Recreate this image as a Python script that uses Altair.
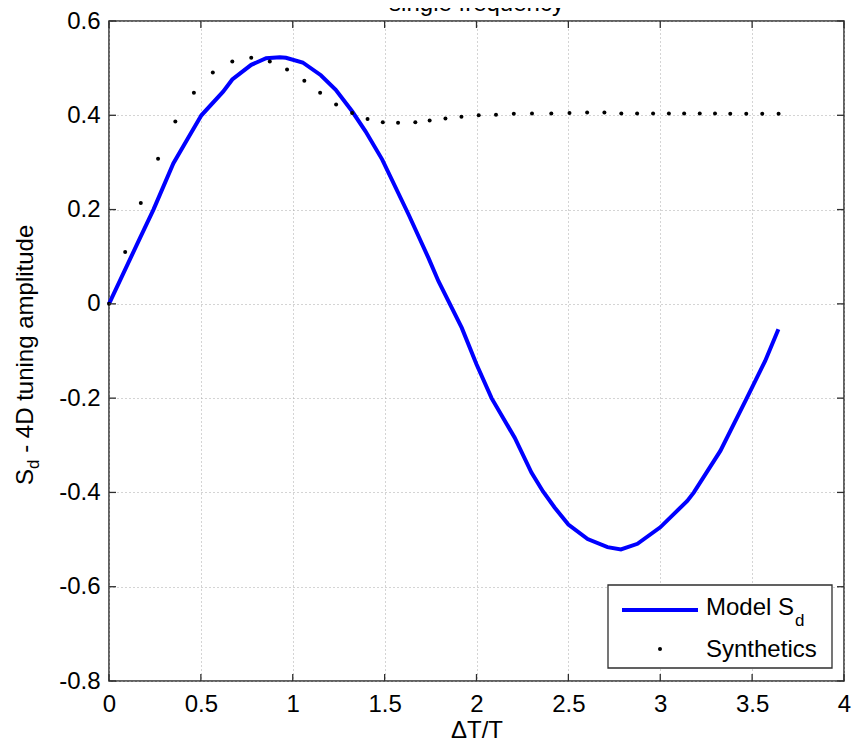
import altair as alt
import pandas as pd

# ---- data ----
model_x = [0.0, 0.169, 0.242, 0.350, 0.440, 0.503, 0.621, 0.671, 0.774, 0.855, 0.930,
           0.963, 1.054, 1.153, 1.234, 1.324, 1.396, 1.487, 1.631, 1.739, 1.793, 1.920,
           2.000, 2.082, 2.208, 2.299, 2.362, 2.425, 2.500, 2.605, 2.713, 2.786, 2.876,
           3.000, 3.147, 3.183, 3.327, 3.471, 3.571, 3.643]
model_y = [0.0, 0.140, 0.200, 0.298, 0.358, 0.400, 0.450, 0.476, 0.507, 0.521, 0.523,
           0.522, 0.512, 0.485, 0.454, 0.408, 0.366, 0.306, 0.189, 0.097, 0.048, -0.051,
           -0.128, -0.200, -0.284, -0.358, -0.398, -0.432, -0.468, -0.499, -0.516, -0.521, -0.509,
           -0.474, -0.418, -0.400, -0.312, -0.200, -0.121, -0.054]

syn_x = [0.0, 0.088, 0.173, 0.267, 0.361, 0.462, 0.565, 0.671, 0.774, 0.875, 0.969,
         1.063, 1.149, 1.236, 1.323, 1.407, 1.490, 1.573, 1.667, 1.745, 1.831, 1.918,
         2.012, 2.106, 2.203, 2.302, 2.407, 2.506, 2.602, 2.696, 2.788, 2.874, 2.961,
         3.047, 3.130, 3.215, 3.298, 3.381, 3.468, 3.555, 3.644]
syn_y = [0.0, 0.110, 0.214, 0.308, 0.387, 0.448, 0.491, 0.514, 0.522, 0.514, 0.497,
         0.473, 0.448, 0.423, 0.405, 0.392, 0.385, 0.384, 0.385, 0.389, 0.393, 0.397,
         0.400, 0.401, 0.403, 0.404, 0.404, 0.405, 0.406, 0.406, 0.404, 0.404, 0.404,
         0.404, 0.404, 0.404, 0.404, 0.403, 0.403, 0.403, 0.403]

x_ticks = [0, 0.5, 1, 1.5, 2, 2.5, 3, 3.5, 4]
y_ticks = [-0.8, -0.6, -0.4, -0.2, 0, 0.2, 0.4, 0.6]

title_text = "single frequency"
x_title = "ΔT/T"
y_title_main = "S"
y_title_sub = "d"
y_title_rest = "- 4D tuning amplitude"
legend_model = "Model S"
legend_model_sub = "d"
legend_syn = "Synthetics"

# ---- style ----
W, H = 735, 660
PAD_L, PAD_T, PAD_R, PAD_B = 101, 13, 8, 60
FONT = "Liberation Sans"
FS = 24
SUB = 17
BOX = "#2e2e2e"
BLUE = "#0000ff"

xs = alt.Scale(domain=[0, 4], nice=False, zero=False)
ys = alt.Scale(domain=[-0.8, 0.6], nice=False, zero=False)

model = pd.DataFrame({"x": model_x, "y": model_y})
syn = pd.DataFrame({"x": syn_x, "y": syn_y})
xt = pd.DataFrame({"x": x_ticks})
yt = pd.DataFrame({"y": y_ticks})
one = pd.DataFrame({"k": [0]})

grid_kw = dict(grid=True, gridDash=[1, 3], gridColor="#a8a8a8", gridWidth=1,
               domain=False, ticks=False, labelFont=FONT, labelFontSize=FS,
               labelColor="black", labelFlush=False, labelOverlap=False,
               labelExpr="datum.value + ''")

x_axis = alt.Axis(values=x_ticks, labelPadding=11, title=x_title, titleFont=FONT,
                  titleFontSize=FS, titleFontWeight="normal", titleColor="black",
                  titleBaseline="alphabetic", titleY=56, **grid_kw)
y_axis = alt.Axis(values=y_ticks, labelPadding=9, title="", **grid_kw)

X = alt.X("x:Q", scale=xs, axis=x_axis)
Y = alt.Y("y:Q", scale=ys, axis=y_axis)

line = alt.Chart(model).mark_line(color=BLUE, strokeWidth=4).encode(x=X, y=Y)

dots = alt.Chart(syn).mark_circle(color="black", size=16, opacity=1).encode(x=X, y=Y)

TL = 7
tick_b = alt.Chart(xt).mark_rule(color=BOX, strokeWidth=1.3).encode(
    x=X, y=alt.value(H), y2=alt.value(H - TL))
tick_t = alt.Chart(xt).mark_rule(color=BOX, strokeWidth=1.3).encode(
    x=X, y=alt.value(0), y2=alt.value(TL))
tick_l = alt.Chart(yt).mark_rule(color=BOX, strokeWidth=1.3).encode(
    y=Y, x=alt.value(0), x2=alt.value(TL))
tick_r = alt.Chart(yt).mark_rule(color=BOX, strokeWidth=1.3).encode(
    y=Y, x=alt.value(W), x2=alt.value(W - TL))

# title (cut off at the top as in the reference)
title = alt.Chart(one).mark_text(font=FONT, fontSize=24, align="center",
                                 baseline="alphabetic", color="black").encode(
    x=alt.value(W / 2), y=alt.value(-10), text=alt.value(title_text))

# y-axis title with subscript
ybase_x = -76
ystart = 464
s_w = 0.667 * FS
d_w = 0.556 * SUB
yt_S = alt.Chart(one).mark_text(font=FONT, fontSize=FS, angle=270, align="left",
                                baseline="alphabetic", color="black").encode(
    x=alt.value(ybase_x), y=alt.value(ystart), text=alt.value(y_title_main))
yt_d = alt.Chart(one).mark_text(font=FONT, fontSize=SUB, angle=270, align="left",
                                baseline="alphabetic", color="black").encode(
    x=alt.value(ybase_x + 6), y=alt.value(ystart - s_w), text=alt.value(y_title_sub))
yt_rest = alt.Chart(one).mark_text(font=FONT, fontSize=FS, angle=270, align="left",
                                   baseline="alphabetic", color="black").encode(
    x=alt.value(ybase_x), y=alt.value(ystart - s_w - d_w - 0.278 * FS),
    text=alt.value(y_title_rest))

# legend
lx1 = W - 12
lx0 = lx1 - 224
ly0, ly1 = 564, 647
leg_box = alt.Chart(one).mark_rect(fill="white", stroke=BOX, strokeWidth=1.3).encode(
    x=alt.value(lx0), x2=alt.value(lx1), y=alt.value(ly0), y2=alt.value(ly1))
leg_line = alt.Chart(one).mark_rule(color=BLUE, strokeWidth=4).encode(
    x=alt.value(lx0 + 14), x2=alt.value(lx0 + 90), y=alt.value(589))
leg_dot = alt.Chart(one).mark_circle(color="black", size=16, opacity=1).encode(
    x=alt.value(lx0 + 52), y=alt.value(628))
tx = lx0 + 98
leg_t1 = alt.Chart(one).mark_text(font=FONT, fontSize=FS, align="left",
                                  baseline="alphabetic", color="black").encode(
    x=alt.value(tx), y=alt.value(594), text=alt.value(legend_model))
leg_t1d = alt.Chart(one).mark_text(font=FONT, fontSize=SUB, align="left",
                                   baseline="alphabetic", color="black").encode(
    x=alt.value(tx + 3.668 * FS + 1), y=alt.value(605), text=alt.value(legend_model_sub))
leg_t2 = alt.Chart(one).mark_text(font=FONT, fontSize=FS, align="left",
                                  baseline="alphabetic", color="black").encode(
    x=alt.value(tx), y=alt.value(636), text=alt.value(legend_syn))

chart = alt.layer(
    line, dots, tick_b, tick_t, tick_l, tick_r,
    title, yt_S, yt_d, yt_rest,
    leg_box, leg_line, leg_dot, leg_t1, leg_t1d, leg_t2,
).properties(
    width=W, height=H,
    autosize=alt.AutoSizeParams(type="none"),
    padding={"left": PAD_L, "top": PAD_T, "right": PAD_R, "bottom": PAD_B},
    background="white",
).configure_view(
    stroke=BOX, strokeWidth=1.5
)

chart.save("out.html", embed_options={"renderer": "svg", "actions": False})
